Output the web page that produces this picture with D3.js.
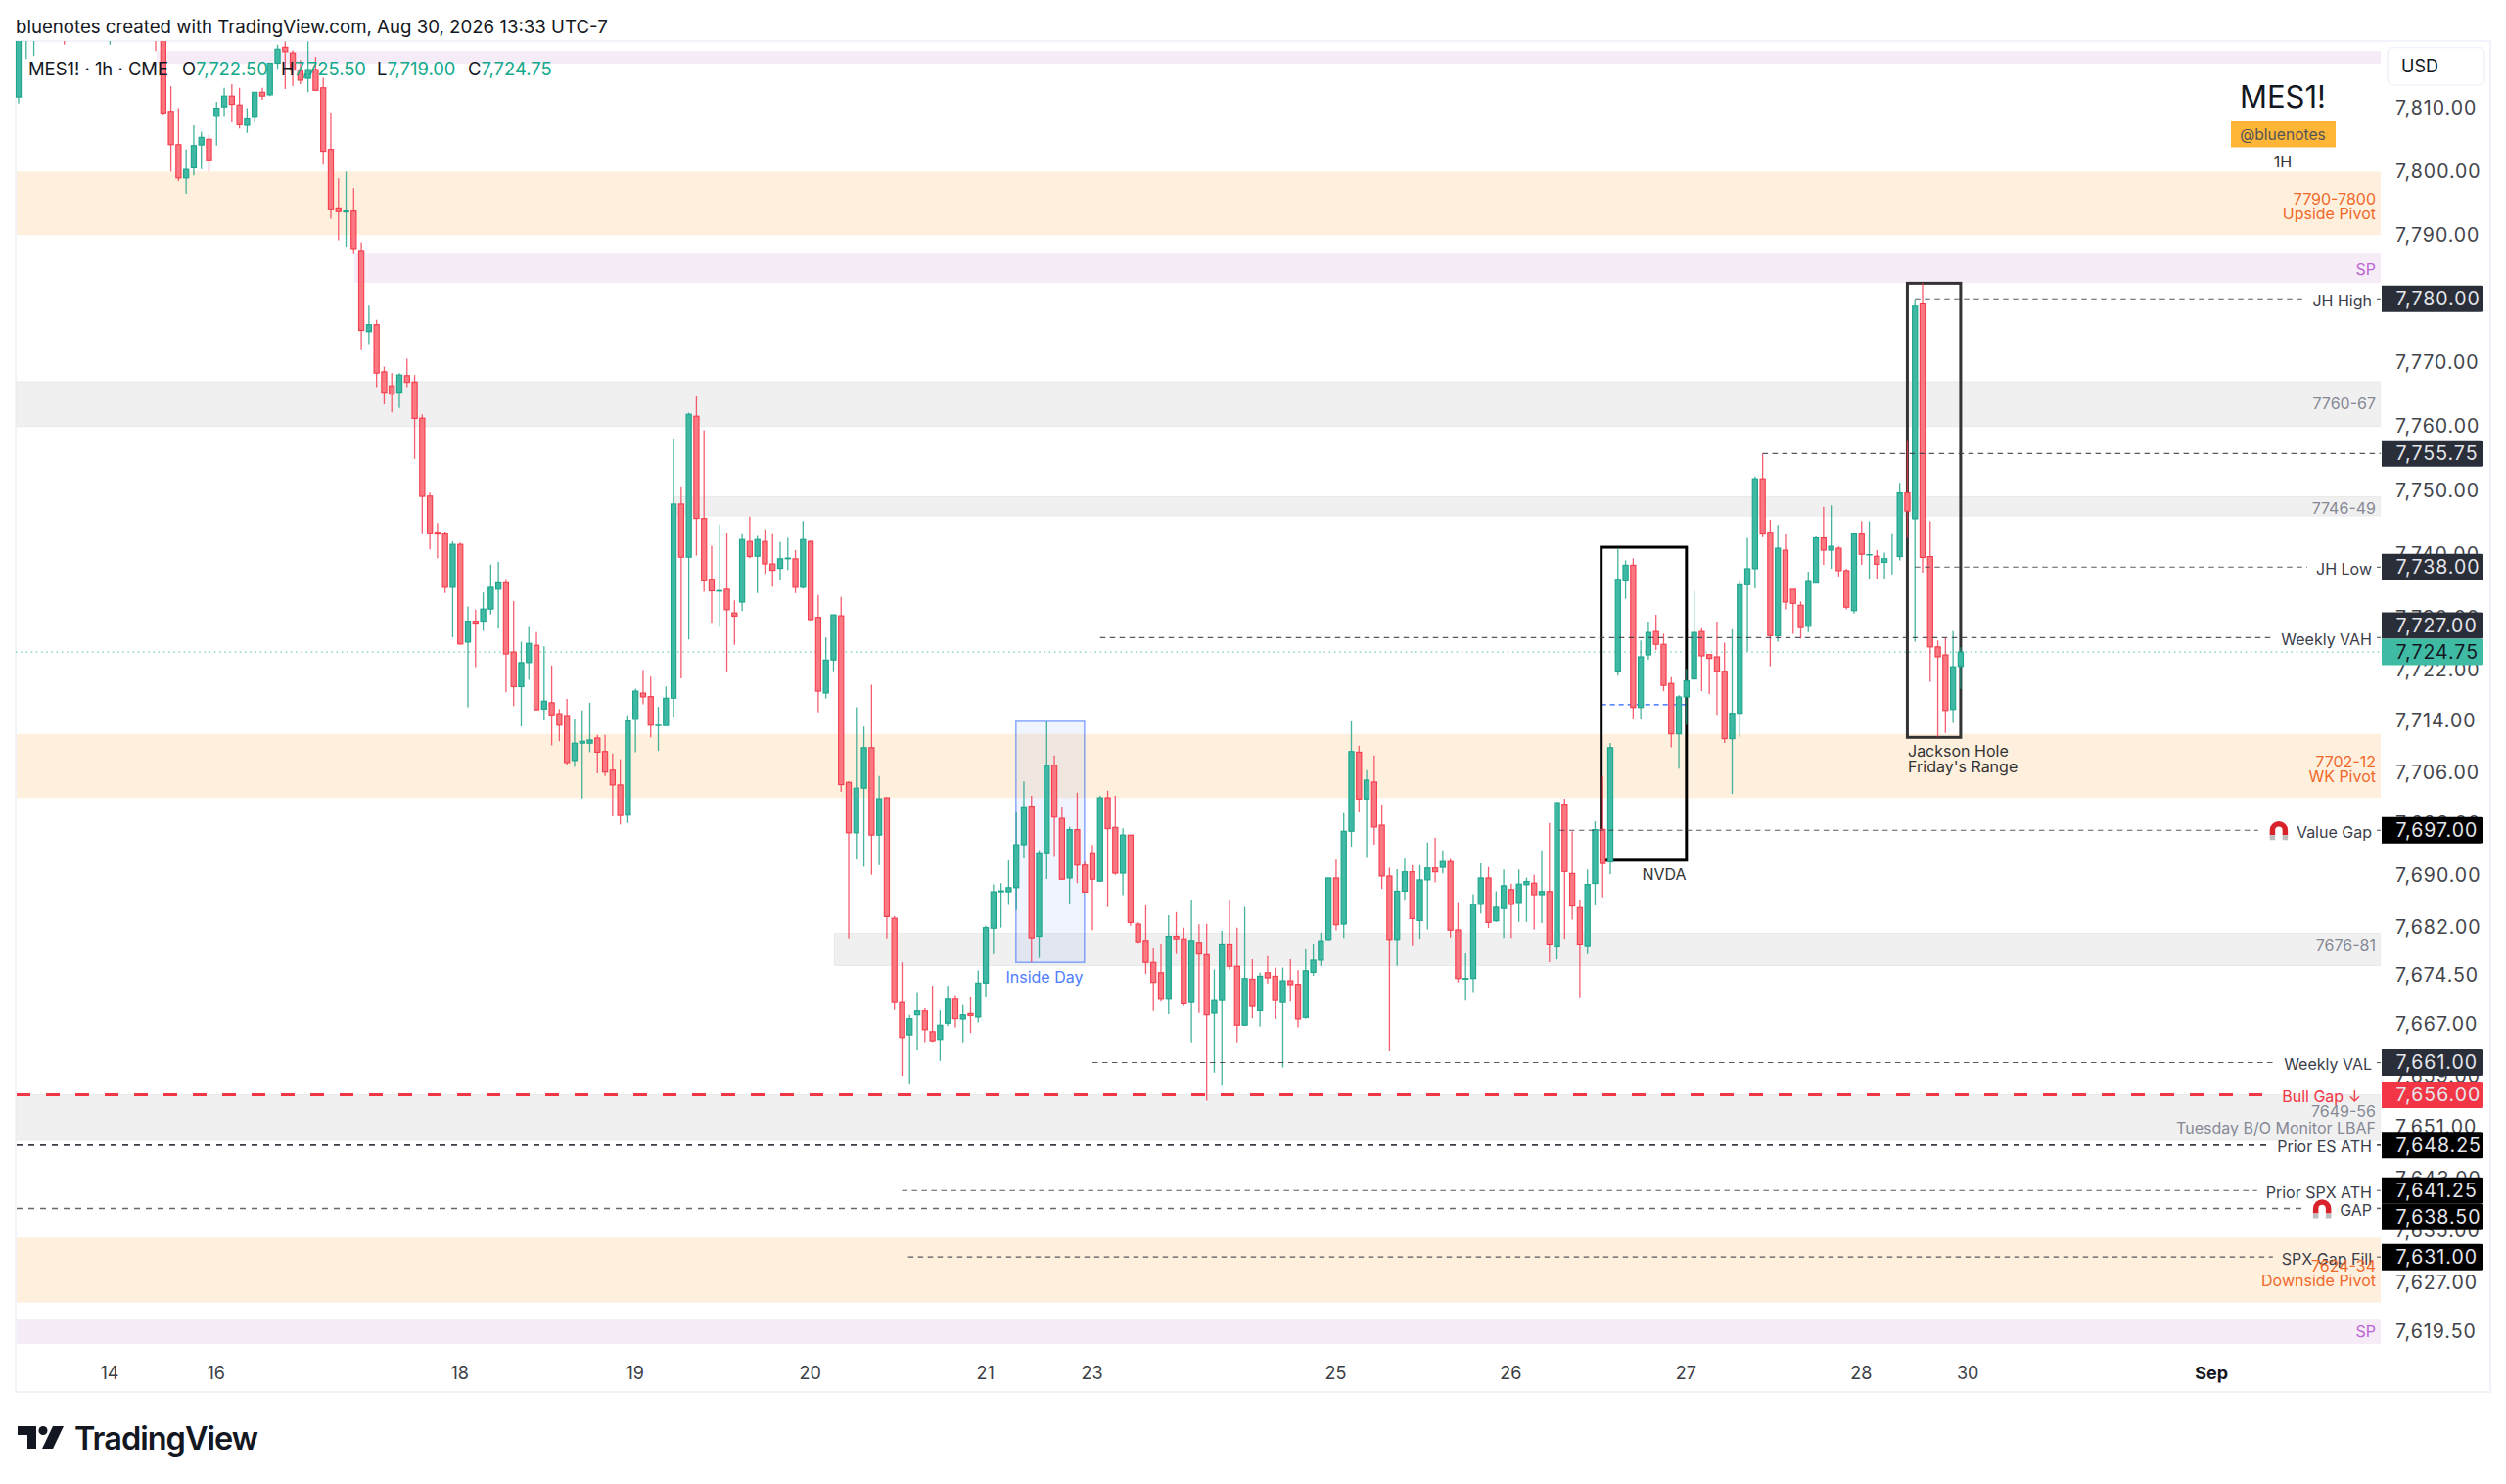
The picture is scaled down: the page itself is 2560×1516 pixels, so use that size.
<!DOCTYPE html>
<html>
<head>
<meta charset="utf-8">
<title>MES1! 1h</title>
<script src="https://cdn.jsdelivr.net/npm/d3@7"></script>
<style>
  html, body { margin: 0; padding: 0; background: #fff; }
  svg { display: block; }
  text { font-family: Inter, "Noto Sans", sans-serif; }
</style>
</head>
<body>
<div id="chart"></div>
<script>
// Hourly bars, oldest first. The first 19 sit above the visible price range.
var opens = [7811.75,7822,7823,7827,7826,7824,7826,7823,7825,7828,7826,7825,7824,7827,7829,7826,7825,7828,7831,7826,
  7809.5,7804.25,7799,7800.6,7804.2,7805.1,7808.7,7810.2,7811.9,7810.5,7807.3,7808.55,7812.5,7812.1,7817.1,7819.6,7818.7,7816,7814.7,7816.1,
  7813.2,7803.5,7794.3,7793.65,7793.8,7787.6,7774.85,7775.95,7768.55,7766.35,7765.35,7767.95,7766.95,7761.3,7749.1,7743.45,7743.15,7734.85,7741.55,7726.3,
  7729.55,7729.55,7731.45,7734.55,7735.55,7724.75,7719.35,7723.1,7725.8,7715.85,7716.85,7715.15,7714.85,7707.85,7710.55,7710.55,7711.35,7709.25,7706.35,7704.05,
  7699.35,7714.25,7718.35,7717.8,7713.3,7713.3,7717.55,7747.85,7739.55,7761.6,7745.6,7736.1,7734.25,7734.55,7730.85,7732.55,7742,7739.7,7742,7738.5,
  7737.8,7739.3,7739.3,7734.85,7742,7730.15,7718.35,7723.5,7730.4,7704.45,7696.6,7703.55,7709.85,7696.25,7702.05,7683.35,7670.3,7665.3,7668.4,7669,
  7665.8,7664.6,7667.1,7670.8,7667.75,7668.6,7668.05,7673.3,7681.8,7687.45,7687.45,7688.1,7694.75,7700.75,7680.55,7693.5,7707.1,7698.85,7689.6,7697.1,
  7691.6,7693.5,7689.1,7702.05,7697.45,7690.35,7696.25,7682.45,7679.9,7676.5,7674.9,7670.8,7680.55,7680.15,7670.3,7679.6,7677.7,7668.65,7670.6,7679.35,
  7675.9,7666.8,7673.9,7669.05,7674.9,7674.35,7670.3,7673.65,7673.1,7668,7674.95,7676.85,7680.05,7689.6,7682.45,7696.85,7709.15,7701.85,7704.5,7697.8,
  7689.9,7680.05,7687.55,7690.55,7683,7689.3,7691.15,7691.25,7692.15,7681.55,7673.9,7674,7685.5,7689.6,7682.95,7684.85,7687.8,7685.8,7688.55,7688.8,
  7687,7687.5,7679.05,7701.05,7690.3,7685,7679.1,7688.75,7697.15,7692.1,7721.8,7735.85,7738.3,7716.1,7724.3,7727.95,7725.95,7719.85,7712,7717.75,
  7720.55,7727.95,7724.35,7724,7721.75,7711.25,7715.2,7735.25,7737.75,7751.8,7743.45,7727.3,7740.65,7734.55,7732.05,7728.75,7735.5,7742.55,7740.65,7740.95,
  7737.45,7731.2,7743.15,7739.9,7739.7,7738.75,7739.55,7739.65,7749.6,7745.55,7779.2,7739.65,7725.55,7724.3,7715.8,7722.5];
var highs = [7828,7829,7829,7829,7828,7828,7828,7827,7830,7830,7828,7827,7830,7831,7831,7828,7830,7833,7832,7828,
  7813.45,7810,7803.5,7807.3,7806.3,7805.8,7811,7813.2,7813.8,7813.2,7810,7812.5,7813.2,7817.1,7820,7820.5,7819.1,7817.6,7820.5,7818.1,
  7814.8,7809.3,7798.95,7800,7797.4,7788.9,7778.95,7776.7,7769.35,7768.35,7768.35,7770.6,7768.05,7761.9,7749.65,7744.9,7743.55,7742,7741.85,7731.85,
  7731.35,7734.05,7738.4,7738.8,7736.15,7732.7,7726.35,7728.65,7727.85,7725.65,7722.65,7715.85,7717.45,7714.4,7715.65,7716.85,7711.85,7711.85,7708.95,7708.05,
  7714.9,7719.05,7721.95,7720.9,7716.2,7719.4,7758.1,7750.65,7762.15,7764.7,7759.4,7741.35,7744.65,7743.25,7732.8,7743.15,7745.9,7742.85,7743.9,7743.15,
  7741.9,7742.55,7740.65,7745.2,7742.15,7733.65,7727.05,7730.55,7733.35,7704.6,7716.15,7713.15,7719.65,7705.45,7702.15,7683.7,7676.5,7668.4,7671.9,7669.4,
  7672.9,7669.1,7672.9,7671.45,7669.9,7671.2,7675.25,7682.2,7688.6,7688.8,7692.3,7699.8,7704.6,7702.35,7693.9,7713.9,7708.65,7700.7,7697.55,7702.85,
  7692.15,7694.7,7702.35,7703.15,7702.35,7697.3,7696.25,7682.7,7685.35,7678.8,7679.4,7683.8,7684.3,7681.9,7686.25,7682.4,7682.5,7675.4,7681.4,7686.25,
  7681.9,7685.1,7677,7674.9,7677.5,7675.7,7675.7,7677,7675.3,7678.7,7679.4,7681.1,7689.6,7692.45,7699.65,7713.95,7710.15,7706.35,7708.65,7701,
  7691.2,7690.95,7692.6,7691.6,7691.6,7695.1,7695.85,7693.9,7692.55,7685.85,7677.9,7687.1,7691.85,7691.3,7687.55,7690.9,7688.7,7690.9,7689.65,7690.1,
  7693.9,7698.15,7701.3,7701.9,7696.85,7686.25,7690.9,7698.4,7705.35,7710.6,7740.95,7739.05,7739.35,7726.55,7729.5,7730.55,7727.6,7720.85,7718,7722.1,
  7734.35,7728.45,7724.35,7729.5,7726.2,7728.3,7735.85,7742.55,7752.15,7755.75,7745.4,7744.6,7743.1,7734.55,7732.65,7737.3,7742.8,7747.4,7747.65,7741.25,
  7737.75,7743.3,7745.15,7745.15,7740.65,7740.25,7743.15,7751.15,7757.85,7779.95,7782.5,7745.15,7726.55,7727,7728,7725.5];
var lows = [7810.75,7817.75,7818.25,7824,7822,7823,7820,7822,7823.5,7824,7824,7822.5,7820,7825,7824,7823,7823.5,7826,7819,7809,
  7800,7798.5,7796.5,7799.4,7800.4,7800,7804.1,7808.6,7807.75,7806.8,7806.1,7807.8,7811.3,7811.9,7816.2,7813,7813.5,7813.8,7812.5,7812.8,
  7801.1,7792.6,7789.2,7788.2,7787.15,7771.95,7772.9,7766.15,7763.45,7762.2,7762.9,7766.15,7754.9,7743.15,7740.75,7739.4,7733.95,7727.05,7725.9,7716.15,
  7722.4,7728.05,7730.6,7728.4,7718.45,7716.35,7713.15,7720.4,7715.65,7714.1,7710.2,7710.85,7707.1,7706.85,7701.95,7709.15,7705.85,7705.45,7699.15,7697.9,
  7698.15,7709.15,7716.6,7711.45,7709.35,7713.3,7714.65,7720.65,7726.7,7739.8,7734.15,7729.3,7728.65,7721.65,7725.85,7731.15,7739.4,7733.95,7736.95,7734.95,
  7735.9,7737.55,7733.95,7734.65,7729.65,7715.35,7717.5,7721.75,7702.95,7680.2,7692.45,7691.35,7690.1,7691.6,7680.2,7669.15,7658.95,7657.75,7662.9,7664.2,
  7664.2,7661.25,7666.7,7666.45,7664.15,7665.6,7667.2,7671.2,7677.8,7681.9,7685.4,7684.6,7692.65,7676.55,7677.2,7689.45,7693,7689.4,7685.65,7688.8,
  7687.4,7681.5,7689.1,7685.1,7690.1,7686.95,7682.2,7679.55,7674.7,7669,7670.45,7668.5,7677.8,7669.8,7664.15,7668.7,7655.1,7659.45,7657.55,7675.4,
  7664.15,7666.7,7667.9,7666.6,7673.2,7667.75,7660.25,7670.45,7666.45,7667.8,7674.4,7675.95,7679.9,7681.45,7680.3,7694.45,7699.85,7692.85,7694.75,7687.9,
  7662.75,7675.95,7686.2,7679.15,7680.15,7681.6,7688.9,7690.3,7680.35,7673.4,7670.6,7671.9,7684.1,7681.85,7682.8,7680.3,7680.3,7682.8,7682.8,7681.6,
  7682.6,7676.55,7676.95,7680.15,7683.15,7670.95,7677.8,7685.35,7686.6,7690.2,7721.05,7733.05,7714.4,7714.4,7723.55,7725.05,7718.65,7709.9,7706.6,7713.4,
  7720.4,7718.65,7718.2,7714.95,7710.6,7702.65,7711.55,7724.85,7734.7,7742.65,7722.55,7726.35,7731.4,7727.6,7726.85,7727.85,7735.5,7738.35,7737.75,7736.55,
  7731.4,7730.75,7738.35,7736.2,7736.2,7736.2,7736.85,7739.05,7742.55,7726.35,7737.15,7720.1,7711.55,7712.15,7713.7,7719];
var closes = [7826,7826,7827,7826,7824,7826,7823,7825,7828,7826,7825,7824,7828,7829,7826,7825,7828,7831,7826,7809.25,
  7804.25,7799,7800.35,7804.1,7805.4,7801.85,7810,7811.9,7810.6,7807.4,7808.3,7812.5,7811.9,7817.1,7819.3,7818.9,7816,7814.4,7816.1,7812.8,
  7803.2,7794,7793.7,7793.8,7787.9,7775.05,7775.95,7768.35,7765.35,7765.05,7768.05,7766.9,7761.25,7749.05,7743.2,7743.15,7734.85,7741.55,7726,7729.55,
  7729.25,7731.45,7734.85,7735.55,7724.45,7719.35,7723.1,7726.1,7715.75,7717.1,7714.95,7713.35,7707.55,7710.55,7710.85,7711.05,7709.15,7706.05,7704.05,7699.3,
  7714,7718.65,7717.75,7713.35,7713.35,7717.55,7747.85,7739.55,7761.9,7745.6,7735.85,7734.3,7734.35,7731.35,7730.35,7742.3,7739.65,7742.3,7738.5,7737.5,
  7739.3,7739.4,7734.85,7742.3,7729.8,7718.65,7723.5,7730.55,7704.1,7696.6,7703.55,7709.85,7696.25,7701.9,7683.6,7670.3,7664.9,7667.8,7669,7666.1,
  7664.4,7666.8,7670.8,7667.8,7668.4,7668.3,7673.3,7681.9,7687.45,7687.6,7688.1,7694.75,7700.65,7680.3,7693.5,7707.1,7699.05,7689.4,7697.1,7691.6,
  7687.4,7689.4,7702.05,7697.25,7690.35,7696.25,7682.7,7679.7,7676.5,7673.4,7670.8,7680.55,7680.15,7670.1,7679.9,7677.8,7668.4,7670.6,7679.35,7675.9,
  7666.8,7674,7669.7,7674.35,7674.1,7670.6,7673.65,7673.05,7667.75,7675.2,7676.85,7679.85,7689.6,7682.35,7696.85,7709.25,7701.85,7704.8,7697.5,7689.9,
  7680.05,7687.55,7690.55,7683.3,7689.3,7691.15,7690.55,7692.15,7681.5,7674,7674,7685.55,7689.6,7682.7,7685.05,7688.4,7685.5,7688.65,7689.05,7687,
  7687.5,7679.35,7701.3,7690.6,7685.25,7679.35,7688.6,7697.1,7691.85,7709.85,7736.1,7738.3,7716.1,7724,7727.8,7725.95,7719.55,7712,7717.75,7720.25,
  7727.8,7724.15,7723.75,7721.75,7711.25,7715.2,7735.25,7737.75,7751.8,7743.15,7727.3,7740.95,7732.55,7732.35,7728.55,7735.75,7742.55,7740.65,7741.25,7737.45,
  7731.75,7743.15,7740,7739.95,7738.45,7739.3,7739.55,7749.6,7746.75,7778.85,7739.5,7725.55,7724,7715.65,7722.45,7724.75];

var priceTicks = [7810,7800,7790,7780,7770,7760,7750,7740,7730,7722,7714,7706,7698,7690,7682,7674.5,7667,7659,7651,7643,7635,7627,7619.5];
var timeBars = [12,26,58,81,104,127,141,173,196,219,242,256,288];
var timeLabels = ["14","16","18","19","20","21","23","25","26","27","28","30","Sep"];

// shaded zones
var zoneHighs = [7819,7800,7787.25,7767,7749,7712,7681,7656,7634,7621.5];
var zoneLows = [7817,7790,7782.5,7760,7746,7702,7676,7649,7624,7617.5];
var zoneStarts = [18,-1,44,-1,86,-1,107,-1,-1,-1];
var zoneKinds = ["sp","pivot","sp","grey","grey","pivot","grey","grey","pivot","sp"];

var zoneNotes = ["7790-7800","Upside Pivot","SP","7760-67","7746-49","7702-12","WK Pivot","7676-81","7649-56","Tuesday B/O Monitor LBAF","7624-34","Downside Pivot","SP"];
var zoneNotePrices = [7795.7,7793.3,7784.6,7763.55,7747.15,7707.7,7705.3,7679.2,7653.45,7650.85,7629.6,7627.3,7619.5];
var zoneNoteKinds = ["pivot","pivot","sp","grey","grey","pivot","pivot","grey","grey","grey","pivot","pivot","sp"];

// dashed levels
var levelNames = ["JH High","","JH Low","Weekly VAH","Value Gap","Weekly VAL","Bull Gap ↓","Prior ES ATH","Prior SPX ATH","GAP","SPX Gap Fill"];
var levelPrices = [7780,7755.75,7738,7727,7697,7661,7656,7648.25,7641.25,7638.5,7631];
var levelStarts = [249,229,249,142,202.3,141,-1,-1,116,-1,116.8];

// price tags on the axis
var tagPrices = [7780,7755.75,7738,7727,7724.75,7697,7661,7656,7648.25,7641.25,7638.5,7631];
var tagKinds = ["dark","dark","dark","dark","last","black","dark","red","black","black","black","black"];
var lastPrice = 7724.75;

// annotation boxes: first bar, last bar, top, bottom
var insideDayBox = [130.95,139.95,7713.95,7676.5];
var nvdaBox = [207.8,219,7741.1,7692.35];
var jacksonBox = [248,255,7782.45,7711.45];

var legendValues = ["7,722.50","7,725.50","7,719.00","7,724.75"];
var legendKeys = ["O","H","L","C"];

var svgWidth = 2560;
var svgHeight = 1516;
var pane = {left: 16, right: 2432, top: 42, bottom: 1373};

var svg = d3.select("#chart")
  .append("svg")
  .attr("width", svgWidth)
  .attr("height", svgHeight);

var x = d3.scaleLinear().domain([0,255]).range([19,2002.9]);
// the price scale is logarithmic, that is why its ticks are uneven
var y = d3.scaleLog().domain([7810,7619.5]).range([110.5,1360.5]);

var zoneFill = {sp: "#f6ecf8", pivot: "#fff0de", grey: "#f0f0f0"};
var noteColor = {sp: "#bb66d3", pivot: "#f0682a", grey: "#868995"};

svg.append("defs").append("clipPath").attr("id","paneClip")
  .append("rect")
  .attr("x", pane.left)
  .attr("y", pane.top)
  .attr("width", pane.right - pane.left)
  .attr("height", pane.bottom - pane.top);

// outer frame
svg.append("rect")
  .attr("x", 16).attr("y", 42)
  .attr("width", 2528).attr("height", 1380)
  .attr("fill", "none")
  .attr("stroke", "#f0f3fa")
  .attr("stroke-width", 2);

svg.append("text")
  .attr("x", 16).attr("y", 34)
  .attr("font-size", 18.65)
  .attr("fill", "#131722")
  .text("bluenotes created with TradingView.com, Aug 30, 2026 13:33 UTC-7");

var chartGroup = svg.append("g").attr("clip-path", "url(#paneClip)");

// zones
zoneHighs.forEach(function(high, i) {
  var left = zoneStarts[i] < 0 ? pane.left + 1 : x(zoneStarts[i]) + 1;
  chartGroup.append("rect")
    .attr("x", left)
    .attr("y", y(high))
    .attr("width", pane.right - left)
    .attr("height", y(zoneLows[i]) - y(high))
    .attr("fill", zoneFill[zoneKinds[i]])
    .attr("stroke", zoneKinds[i] === "grey" ? "#e9e9e9" : "none");
});

// last price line
chartGroup.append("line")
  .attr("x1", pane.left).attr("x2", pane.right)
  .attr("y1", y(lastPrice)).attr("y2", y(lastPrice))
  .attr("stroke", "#3fbba4")
  .attr("stroke-opacity", 0.7)
  .attr("stroke-width", 1.3)
  .attr("stroke-dasharray", "1.6 3.6");

// blue mid line inside the NVDA box
chartGroup.append("line")
  .attr("x1", x(207.8)).attr("x2", x(219))
  .attr("y1", y(7716.55)).attr("y2", y(7716.55))
  .attr("stroke", "#2962ff")
  .attr("stroke-width", 1.1)
  .attr("stroke-dasharray", "5 4");

// level lines with their names cut into them
var levelGroup = svg.append("g");
levelNames.forEach(function(name, i) {
  var py = y(levelPrices[i]);
  var start = levelStarts[i] < 0 ? pane.left + 1 : x(levelStarts[i]);
  var isBull = name.indexOf("Bull") === 0;
  var magnet = name === "Value Gap" || name === "GAP";
  var textLeft = pane.right, textRight = pane.right;
  if (name) {
    var label = levelGroup.append("text")
      .attr("x", isBull ? 2412 : 2423)
      .attr("y", py + 2)
      .attr("dy", "0.35em")
      .attr("text-anchor", "end")
      .attr("font-size", 16)
      .attr("fill", isBull ? "#f23645" : "#3b3e4a")
      .text(name);
    var len = label.node().getComputedTextLength();
    textRight = isBull ? pane.right : 2428;
    textLeft = (isBull ? 2412 : 2423) - len - (isBull ? 7 : 9);
    if (magnet) {
      var cx = 2423 - len - 18;
      drawMagnet(cx, py + 1);
      textLeft = cx - 21;
    }
  }
  var segs = name ? [[start, textLeft], [textRight, pane.right]] : [[start, pane.right]];
  var grey = name === "GAP";
  var fine = name === "Prior ES ATH" || grey;
  segs.forEach(function(s) {
    if (s[1] <= s[0]) return;
    levelGroup.append("line")
      .attr("x1", s[0]).attr("x2", s[1])
      .attr("y1", py).attr("y2", py)
      .attr("stroke", isBull ? "#f23645" : (grey ? "#666" : "#3a3d47"))
      .attr("stroke-opacity", isBull || fine ? 1 : 0.85)
      .attr("stroke-width", isBull ? 3 : (fine ? 1.6 : 1.1))
      .attr("stroke-dasharray", isBull ? "14 16" : (fine ? "6 6" : "5.5 4.5"));
  });
});

function drawMagnet(cx, cy) {
  levelGroup.append("path")
    .attr("d", "M" + (cx - 6.5) + "," + (cy + 4) + "V" + (cy - 1) + "a6.5,6.5 0 0 1 13,0V" + (cy + 4))
    .attr("fill", "none")
    .attr("stroke", "#d9232a")
    .attr("stroke-width", 5.5);
  levelGroup.append("path")
    .attr("d", "M" + (cx - 6.5) + "," + (cy + 4) + "v5M" + (cx + 6.5) + "," + (cy + 4) + "v5")
    .attr("fill", "none")
    .attr("stroke", "#bdbdbd")
    .attr("stroke-width", 5.5);
}

// annotation boxes
function drawBox(box, fill, stroke, width) {
  chartGroup.append("rect")
    .attr("x", x(box[0]))
    .attr("y", y(box[2]))
    .attr("width", x(box[1]) - x(box[0]))
    .attr("height", y(box[3]) - y(box[2]))
    .attr("fill", fill)
    .attr("stroke", stroke)
    .attr("stroke-width", width);
}
drawBox(insideDayBox, "rgba(41,98,255,0.07)", "rgba(41,98,255,0.5)", 1.6);
drawBox(nvdaBox, "none", "#000", 3);
drawBox(jacksonBox, "none", "#333", 3);

// candles
var bars = opens.map(function(o, i) {
  return {i: i, o: o, h: highs[i], l: lows[i], c: closes[i]};
});
var up = function(d) { return d.c >= d.o; };

chartGroup.selectAll(".wick")
  .data(bars)
  .enter()
  .append("line")
  .attr("class", "wick")
  .attr("x1", d => x(d.i))
  .attr("x2", d => x(d.i))
  .attr("y1", d => y(d.h))
  .attr("y2", d => y(d.l))
  .attr("stroke", d => up(d) ? "#16a085" : "#f4364c")
  .attr("stroke-opacity", 0.8)
  .attr("stroke-width", 1.3);

chartGroup.selectAll(".body")
  .data(bars)
  .enter()
  .append("rect")
  .attr("class", "body")
  .attr("x", d => x(d.i) - 2.6)
  .attr("width", 5.2)
  .attr("y", d => y(Math.max(d.o, d.c)))
  .attr("height", d => Math.abs(y(d.o) - y(d.c)))
  .attr("fill", d => up(d) ? "#3fb9a3" : "#fa7881")
  .attr("stroke", d => up(d) ? "#1ba58a" : "#f53c4c")
  .attr("stroke-width", 1.1);

// price axis
var yAxis = d3.axisRight(y)
  .tickValues(priceTicks)
  .tickFormat(d3.format(",.2f"))
  .tickSize(0)
  .tickPadding(0);

var yAxisGroup = svg.append("g")
  .attr("transform", "translate(2447,0)")
  .call(yAxis);
yAxisGroup.select(".domain").remove();
yAxisGroup.selectAll("text")
  .attr("font-family", "Inter")
  .attr("font-size", 19.5)
  .attr("letter-spacing", 1)
  .attr("fill", "#42444b");

// time axis
var xAxis = d3.axisBottom(x)
  .tickValues(timeBars)
  .tickFormat(function(d, i) { return timeLabels[i]; })
  .tickSize(0)
  .tickPadding(0);

var xAxisGroup = svg.append("g")
  .attr("transform", "translate(-1,1396)")
  .call(xAxis);
xAxisGroup.select(".domain").remove();
xAxisGroup.selectAll("text")
  .attr("font-family", "Inter")
  .attr("font-size", 18)
  .attr("font-weight", function(d, i) { return timeLabels[i] === "Sep" ? 700 : 400; })
  .attr("fill", function(d, i) { return timeLabels[i] === "Sep" ? "#131722" : "#3b3e46"; });

// zone notes
svg.append("g").selectAll("text")
  .data(zoneNotes)
  .enter()
  .append("text")
  .attr("x", 2427)
  .attr("y", (d, i) => y(zoneNotePrices[i]))
  .attr("dy", "0.35em")
  .attr("text-anchor", "end")
  .attr("font-size", 16)
  .attr("fill", (d, i) => noteColor[zoneNoteKinds[i]])
  .text(d => d);

// tags, pushed apart the way the price scale does it
var tagHeight = 27;
var tagColor = {dark: "#2a2e39", black: "#000", red: "#f23645", last: "#3fbba4"};
var tagY = tagPrices.map(function(p) { return y(p); });
var lastIndex = tagPrices.indexOf(lastPrice);
for (var t = lastIndex - 1; t >= 0; t--) {
  if (tagY[t + 1] - tagY[t] < tagHeight) tagY[t] = tagY[t + 1] - tagHeight;
}
for (var u = lastIndex + 1; u < tagY.length; u++) {
  if (tagY[u] - tagY[u - 1] < tagHeight) tagY[u] = tagY[u - 1] + tagHeight;
}

var tags = svg.append("g").selectAll("g")
  .data(tagPrices)
  .enter()
  .append("g")
  .attr("transform", (d, i) => "translate(2433," + tagY[i] + ")");

tags.append("path")
  .attr("d", "M0,-13.5H101a3,3 0 0 1 3,3V10.5a3,3 0 0 1 -3,3H0Z")
  .attr("fill", (d, i) => tagColor[tagKinds[i]]);

tags.append("text")
  .attr("x", 14.5)
  .attr("dy", "0.35em")
  .attr("font-size", 19.5)
  .attr("letter-spacing", 1)
  .attr("fill", (d, i) => tagKinds[i] === "last" ? "#131722" : "#e4e6eb")
  .text(d => d3.format(",.2f")(d));

// USD button
svg.append("rect")
  .attr("x", 2439).attr("y", 48.5)
  .attr("width", 99).attr("height", 38.5)
  .attr("rx", 6)
  .attr("fill", "#fff")
  .attr("stroke", "#f0f3fa")
  .attr("stroke-width", 1.6);
svg.append("text")
  .attr("x", 2453).attr("y", 68)
  .attr("dy", "0.35em")
  .attr("font-size", 18)
  .attr("fill", "#131722")
  .text("USD");

// watermark
svg.append("text")
  .attr("x", 2332).attr("y", 99)
  .attr("dy", "0.35em")
  .attr("text-anchor", "middle")
  .attr("font-size", 31)
  .attr("fill", "#131722")
  .text("MES1!");
svg.append("rect")
  .attr("x", 2279).attr("y", 124)
  .attr("width", 107).attr("height", 26.5)
  .attr("fill", "#ffb636");
svg.append("text")
  .attr("x", 2332).attr("y", 138)
  .attr("dy", "0.35em")
  .attr("text-anchor", "middle")
  .attr("font-size", 15.6)
  .attr("fill", "#555")
  .text("@bluenotes");
svg.append("text")
  .attr("x", 2332).attr("y", 165)
  .attr("dy", "0.35em")
  .attr("text-anchor", "middle")
  .attr("font-size", 16)
  .attr("fill", "#333")
  .text("1H");

// legend line
svg.append("text")
  .attr("x", 29).attr("y", 71)
  .attr("dy", "0.35em")
  .attr("font-size", 18.4)
  .attr("fill", "#131722")
  .text("MES1! · 1h · CME");
var legendKeyX = [186,287,385,478];
legendKeys.forEach(function(k, i) {
  var row = svg.append("text")
    .attr("x", legendKeyX[i]).attr("y", 71)
    .attr("dy", "0.35em")
    .attr("font-size", 18.4);
  row.append("tspan").attr("fill", "#131722").text(k);
  row.append("tspan").attr("fill", "#14a98c").text(legendValues[i]);
});

// box captions
function caption(text, px, py, anchor, color) {
  svg.append("text")
    .attr("x", px).attr("y", py)
    .attr("dy", "0.35em")
    .attr("text-anchor", anchor)
    .attr("font-size", 16)
    .attr("fill", color)
    .text(text);
}
caption("Inside Day", x(134.7), y(insideDayBox[3]) + 15, "middle", "#4d7cff");
caption("NVDA", 1700, y(nvdaBox[3]) + 15, "middle", "#333");
caption("Jackson Hole", 1949, y(jacksonBox[3]) + 14.5, "start", "#333");
caption("Friday's Range", 1949, y(jacksonBox[3]) + 30.5, "start", "#333");

// TradingView logo
var logo = svg.append("g").attr("fill", "#131722");
logo.append("path").attr("d", "M18,1457H37V1480H28V1466H18Z");
logo.append("circle").attr("cx", 44).attr("cy", 1461.5).attr("r", 4.5);
logo.append("path").attr("d", "M54,1457H65L54,1480H43Z");
logo.append("text")
  .attr("x", 76).attr("y", 1481)
  .attr("font-size", 32.5)
  .attr("font-weight", 600)
  .attr("letter-spacing", -1)
  .text("TradingView");
</script>
</body>
</html>
